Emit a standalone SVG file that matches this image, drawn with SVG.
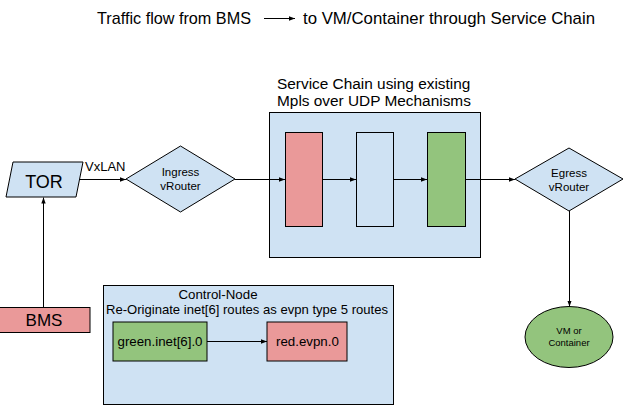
<svg xmlns="http://www.w3.org/2000/svg" width="624" height="405" viewBox="0 0 624 405">
<defs>
<style>
.t{font-family:"Liberation Sans",Arial,sans-serif;fill:#000}
.blue{fill:#cfe2f3;stroke:#000;stroke-width:1}
.red{fill:#ea9999;stroke:#000;stroke-width:1}
.green{fill:#93c47d;stroke:#000;stroke-width:1}
.ln{fill:none;stroke:#000;stroke-width:1}
</style>
<marker id="ah" viewBox="0 0 6 6" refX="6" refY="3" markerWidth="6" markerHeight="6" orient="auto" markerUnits="userSpaceOnUse">
<path d="M0,0.8 L6,3 L0,5.2 Z" fill="#000"/>
</marker>
</defs>
<rect width="624" height="405" fill="#fff"/>
<g id="title">
<text class="t" x="97" y="24" font-size="16.2" textLength="154" lengthAdjust="spacingAndGlyphs">Traffic flow from BMS</text>
<line class="ln" x1="264" y1="18.5" x2="295" y2="18.5" marker-end="url(#ah)"/>
<text class="t" x="303" y="24" font-size="16.6" textLength="292" lengthAdjust="spacingAndGlyphs">to VM/Container through Service Chain</text>
</g>
<g id="service-chain">
<text class="t" x="277" y="89" font-size="15.4">Service Chain using existing</text>
<text class="t" x="277" y="106" font-size="15.4">Mpls over UDP Mechanisms</text>
<rect class="blue" x="269.5" y="112.5" width="211" height="145"/>
</g>
<g id="sc-red"><rect class="red" x="285.5" y="132.5" width="37" height="94"/></g>
<g id="sc-blue"><rect class="blue" x="356.5" y="132.5" width="37" height="94"/></g>
<g id="sc-green"><rect class="green" x="427.5" y="132.5" width="38" height="94"/></g>
<g id="tor">
<polygon class="blue" points="13,162 83,162 76,197 6,197"/>
<text class="t" x="44" y="188" font-size="18" text-anchor="middle">TOR</text>
</g>
<g id="ingress">
<polygon class="blue" points="126,179 180.5,146 235,179 180.5,212"/>
<text class="t" x="180.5" y="175.5" font-size="11.5" text-anchor="middle">Ingress</text>
<text class="t" x="180.5" y="189.5" font-size="11.5" text-anchor="middle">vRouter</text>
</g>
<g id="egress">
<polygon class="blue" points="515,179 569,148 623,179 569,211"/>
<text class="t" x="569" y="177" font-size="11.5" text-anchor="middle">Egress</text>
<text class="t" x="569" y="191" font-size="11.5" text-anchor="middle">vRouter</text>
</g>
<g id="vm">
<ellipse class="green" cx="569" cy="337" rx="44" ry="30.5"/>
<text class="t" x="569" y="334" font-size="9.5" text-anchor="middle">VM or</text>
<text class="t" x="569" y="346" font-size="9.5" text-anchor="middle">Container</text>
</g>
<g id="bms">
<rect class="red" x="-1" y="307.5" width="91" height="25"/>
<text class="t" x="44" y="326" font-size="17" text-anchor="middle">BMS</text>
</g>
<g id="control-node">
<rect class="blue" x="103.5" y="285.5" width="290" height="119"/>
<text class="t" x="218" y="299" font-size="13.3" text-anchor="middle">Control-Node</text>
<text class="t" x="106" y="314" font-size="13.3" textLength="282" lengthAdjust="spacingAndGlyphs">Re-Originate inet[6] routes as evpn type 5 routes</text>
</g>
<g id="green-inet">
<rect class="green" x="113" y="322" width="94" height="39"/>
<text class="t" x="160" y="346" font-size="13.3" text-anchor="middle">green.inet[6].0</text>
</g>
<g id="red-evpn">
<rect class="red" x="267" y="322" width="80" height="39"/>
<text class="t" x="276" y="346" font-size="13.3">red.evpn.0</text>
</g>
<g id="connectors">
<line class="ln" x1="43.5" y1="307" x2="43.5" y2="197.5" marker-end="url(#ah)"/>
<line class="ln" x1="79" y1="179.5" x2="126" y2="179.5" marker-end="url(#ah)"/>
<text class="t" x="85" y="171" font-size="13">VxLAN</text>
<line class="ln" x1="235" y1="179.5" x2="285" y2="179.5" marker-end="url(#ah)"/>
<line class="ln" x1="322.5" y1="179.5" x2="356" y2="179.5" marker-end="url(#ah)"/>
<line class="ln" x1="393.5" y1="179.5" x2="427" y2="179.5" marker-end="url(#ah)"/>
<line class="ln" x1="465.5" y1="179.5" x2="515" y2="179.5" marker-end="url(#ah)"/>
<line class="ln" x1="569.5" y1="211" x2="569.5" y2="306.5" marker-end="url(#ah)"/>
<line class="ln" x1="207" y1="341.5" x2="267" y2="341.5" marker-end="url(#ah)"/>
</g>
</svg>
